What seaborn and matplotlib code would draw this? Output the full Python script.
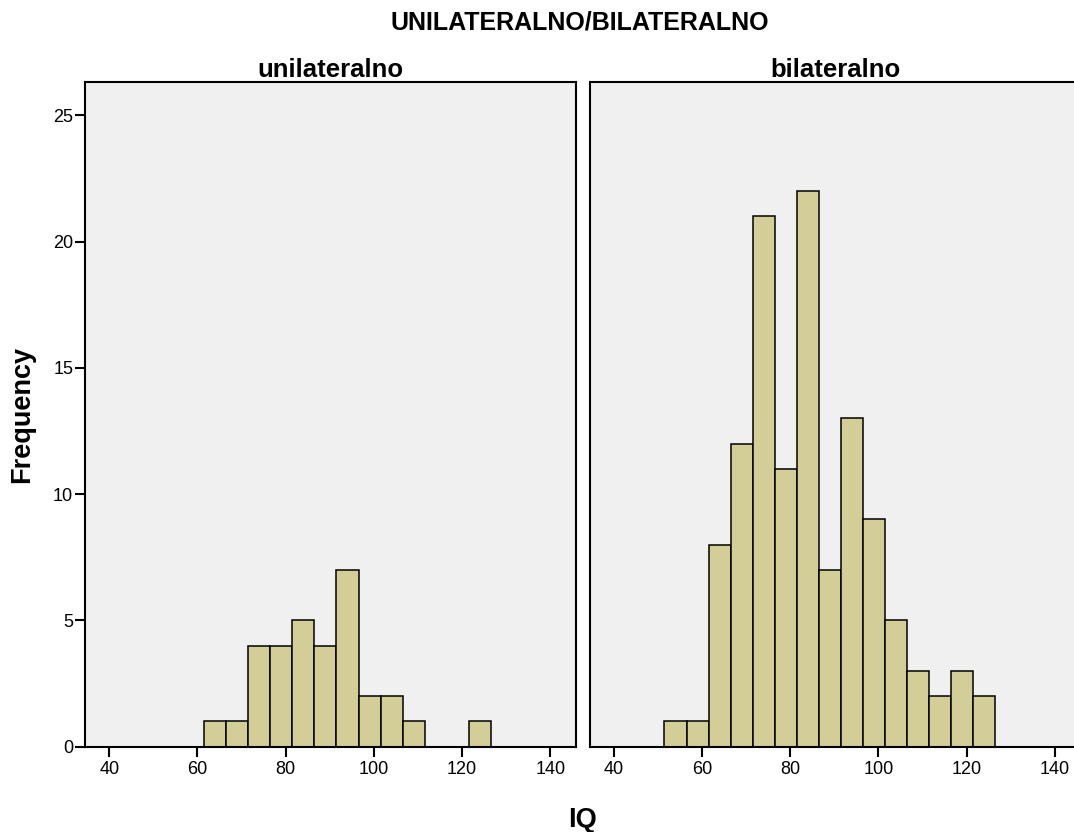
import numpy as np
import pandas as pd
import matplotlib
matplotlib.use("Agg")
import matplotlib.pyplot as plt
import seaborn as sns

# IQ histogram bins (width 5), labelled by bin centre
bin_centers = [54, 59, 64, 69, 74, 79, 84, 89, 94, 99, 104, 109, 114, 119, 124]
bin_width = 5

groups = ["unilateralno", "bilateralno"]
counts_unilateralno = [0, 0, 1, 1, 4, 4, 5, 4, 7, 2, 2, 1, 0, 0, 1]
counts_bilateralno = [1, 1, 8, 12, 21, 11, 22, 7, 13, 9, 5, 3, 2, 3, 2]

x_ticks = [40, 60, 80, 100, 120, 140]
y_ticks = [0, 5, 10, 15, 20, 25]

main_title = "UNILATERALNO/BILATERALNO"
x_label = "IQ"
y_label = "Frequency"

df = pd.DataFrame({
    "group": np.repeat(groups, len(bin_centers)),
    "IQ": bin_centers * 2,
    "count": counts_unilateralno + counts_bilateralno,
})
edges = [c - bin_width / 2 for c in bin_centers] + [bin_centers[-1] + bin_width / 2]

sns.set_style("white")
plt.rcParams["font.family"] = ["Liberation Sans", "DejaVu Sans"]
plt.rcParams["text.color"] = "black"
plt.rcParams["xtick.color"] = "black"
plt.rcParams["ytick.color"] = "black"
plt.rcParams["axes.labelcolor"] = "black"

W, H = 1074, 832
g = sns.FacetGrid(df, col="group", col_order=groups, sharey=True, sharex=True)
g.map_dataframe(sns.histplot, x="IQ", weights="count", bins=edges,
                color="#D3CE97", edgecolor="black", linewidth=1.1, alpha=1)
fig = g.figure
fig.set_size_inches(W / 100, H / 100)
fig.set_dpi(100)

ax_w = 491 / W
ax_h = (746.7 - 82.5) / H
bottom = (H - 746.7) / H
lefts = [85 / W, 589.5 / W]

for i, (ax, name) in enumerate(zip(g.axes.flat, groups)):
    ax.set_position([lefts[i], bottom, ax_w, ax_h])
    ax.set_facecolor("#F0F0F0")
    ax.set_xlim(34.5, 145.8)
    ax.set_ylim(0, 26.3)
    ax.set_xticks(x_ticks)
    ax.set_yticks(y_ticks)
    ax.set_xlabel("")
    ax.set_ylabel("")
    ax.set_title(name, fontsize=18.5, fontweight="bold", pad=4, color="black")
    for sp in ax.spines.values():
        sp.set_visible(True)
        sp.set_color("black")
        sp.set_linewidth(1.5)
    ax.tick_params(axis="x", direction="out", length=7.5, width=1.5,
                   labelsize=13, pad=3, bottom=True, colors="black")
    if i == 0:
        ax.tick_params(axis="y", direction="out", length=7.5, width=1.5,
                       labelsize=13, pad=1, left=True, colors="black")
    else:
        ax.tick_params(axis="y", left=False, labelleft=False)

fig.text(580 / W, 1 - 22 / H, main_title, ha="center", va="center",
         fontsize=18, fontweight="bold", color="black")
fig.text(22 / W, 1 - 414.6 / H, y_label, ha="center", va="center",
         rotation=90, fontsize=19.5, fontweight="bold", color="black")
fig.text(583 / W, 1 - 820 / H, x_label, ha="center", va="center",
         fontsize=19.5, fontweight="bold", color="black")

fig.savefig("out.png", dpi=100, facecolor="white")
